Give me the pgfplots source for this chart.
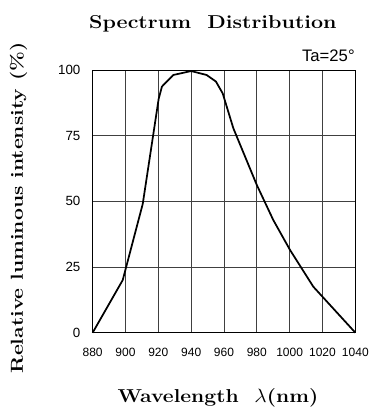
\documentclass[border=0pt]{standalone}
\usepackage{fontspec}
\usepackage{graphicx}
\usepackage{pgfplots}
\pgfplotsset{compat=1.18}
\newfontfamily\tickfont{Liberation Sans}
\begin{document}
\begin{tikzpicture}
\useasboundingbox (-69.5pt,-58pt) rectangle (207.2pt,249.5pt);
\begin{axis}[
  at={(0,0)}, anchor=south west,
  scale only axis, width=197pt, height=197pt,
  xmin=880, xmax=1040, ymin=0, ymax=100,
  xtick={880,900,...,1040}, ytick={0,25,50,75,100},
  major tick length=0pt,
  grid=major,
  grid style={black!75, line width=0.6pt},
  axis line style={black, line width=0.7pt},
  /pgf/number format/assume math mode=true,
  /pgf/number format/1000 sep={},
  xticklabel style={font=\tickfont\fontsize{9}{10}\selectfont, inner sep=0pt, anchor=base, yshift=-18.2pt},
  yticklabel style={font=\tickfont\fontsize{10}{11}\selectfont, inner sep=0pt, anchor=east, xshift=-9pt},
  clip=false,
]
\addplot[black, line width=1.3pt, line join=round] coordinates {
(880,0) (898.3,20) (910.5,49) (920.2,89) (922.2,93.7) (929.1,98.1) (940,99.6)
(949.4,98.1) (955.1,95.6) (959.2,91.1) (965.7,77.8) (980,56.2) (990,42.9)
(1000.2,31.5) (1014.4,17.5) (1040,0)
};
\end{axis}
\node[anchor=base, inner sep=0pt, font=\bfseries\fontsize{14}{16}\selectfont] at (90.2pt,227.8pt) {\scalebox{1.15}[1]{Spectrum\ \ Distribution}};
\node[anchor=base, inner sep=0pt, font=\bfseries\fontsize{14}{16}\selectfont] at (94pt,-52.5pt) {\scalebox{1.13}[1]{Wavelength \ $\lambda$(nm)}};
\node[anchor=base, rotate=90, inner sep=0pt, font=\bfseries\fontsize{13}{15}\selectfont] at (-52.3pt,93.5pt) {\scalebox{1.22}[1]{Relative luminous intensity (\%)}};
\node[anchor=base east, inner sep=0pt, font=\tickfont\fontsize{12.5}{14}\selectfont] at (196.7pt,203pt) {Ta=25°};
\end{tikzpicture}
\end{document}
